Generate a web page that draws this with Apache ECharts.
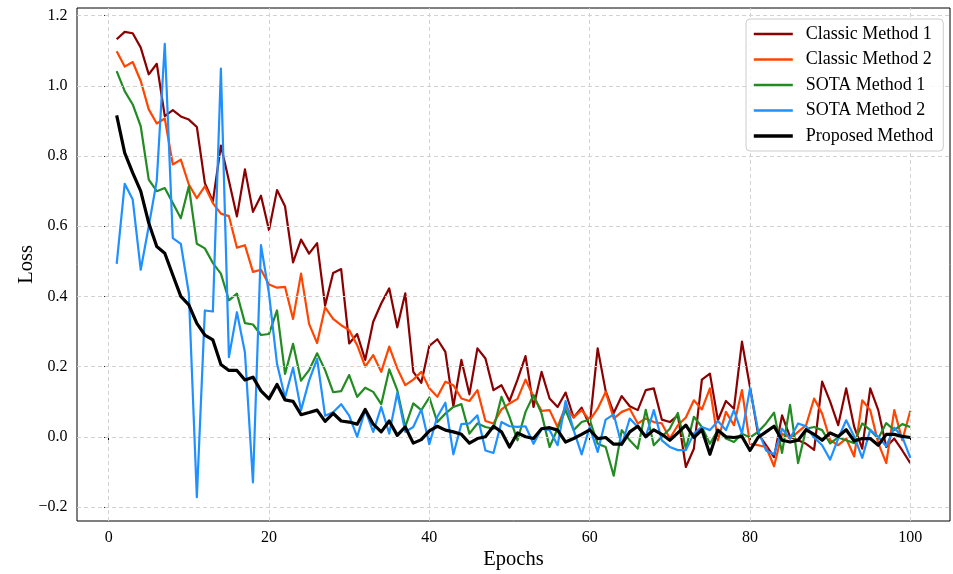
<!DOCTYPE html>
<html>
<head>
<meta charset="utf-8">
<script src="https://cdn.jsdelivr.net/npm/echarts@6/dist/echarts.min.js"></script>
<style>html,body{margin:0;padding:0;background:#fff;}#c{width:953px;height:574px;}</style>
</head>
<body>
<div id="c"></div>
<script>
const epochs = Array.from({length: 100}, (_, i) => i + 1);
const seriesNames = ['Classic Method 1', 'Classic Method 2', 'SOTA Method 1', 'SOTA Method 2', 'Proposed Method'];
const xTicks = [0, 20, 40, 60, 80, 100];
const yTicks = [-0.2, 0, 0.2, 0.4, 0.6, 0.8, 1.0, 1.2];

const classic1 = [1.133,1.154,1.150,1.109,1.033,1.063,0.914,0.931,0.913,0.904,
0.883,0.723,0.671,0.830,0.730,0.628,0.762,0.641,0.687,0.589,
0.703,0.657,0.497,0.562,0.522,0.552,0.374,0.467,0.478,0.266,
0.293,0.219,0.328,0.380,0.423,0.312,0.409,0.185,0.154,0.259,
0.278,0.242,0.087,0.219,0.121,0.252,0.223,0.133,0.147,0.102,
0.163,0.230,0.085,0.185,0.109,0.085,0.126,0.055,0.083,0.033,
0.252,0.130,0.068,0.116,0.087,0.076,0.133,0.138,0.049,0.042,
0.061,-0.086,-0.034,0.163,0.180,0.047,0.102,0.080,0.271,0.142,
0.009,-0.024,-0.058,0.061,0.000,-0.010,-0.020,-0.037,0.157,0.100,
0.033,0.138,0.028,-0.034,0.138,0.076,-0.029,-0.005,-0.039,-0.075];

const classic2 = [1.099,1.055,1.068,1.014,0.933,0.893,0.907,0.776,0.790,0.719,
0.680,0.714,0.666,0.636,0.629,0.539,0.546,0.470,0.476,0.434,
0.425,0.427,0.336,0.465,0.322,0.267,0.369,0.336,0.318,0.304,
0.261,0.200,0.233,0.185,0.257,0.195,0.147,0.163,0.185,0.138,
0.114,0.157,0.147,0.109,0.102,0.133,0.045,0.038,0.078,0.095,
0.108,0.163,0.114,0.074,0.076,0.028,0.087,0.055,0.076,0.047,
0.080,0.128,0.052,0.071,0.080,0.038,0.052,0.042,0.038,-0.005,
0.033,0.055,0.104,0.078,0.138,-0.010,0.071,0.033,0.133,-0.020,
-0.024,-0.029,-0.084,0.009,-0.005,0.014,0.033,0.109,0.066,-0.010,
-0.024,-0.005,-0.056,0.104,0.076,-0.018,-0.075,0.076,-0.010,0.074];

const sota1 = [1.042,0.985,0.947,0.885,0.733,0.700,0.709,0.666,0.623,0.714,
0.550,0.537,0.495,0.465,0.389,0.408,0.324,0.320,0.290,0.293,
0.360,0.179,0.265,0.160,0.190,0.238,0.190,0.127,0.130,0.176,
0.114,0.140,0.128,0.093,0.192,0.133,0.028,0.095,0.076,0.112,
0.042,0.066,0.085,0.093,0.009,0.038,0.028,0.023,0.114,0.057,
-0.010,0.071,0.119,0.066,-0.029,0.023,0.076,0.019,0.042,0.049,
-0.020,-0.029,-0.111,0.019,-0.010,-0.034,0.077,-0.024,0.000,0.023,
0.068,-0.034,0.057,0.028,-0.020,0.019,-0.005,-0.015,0.009,-0.002,
0.014,0.038,0.069,-0.046,0.091,-0.075,0.023,0.028,0.019,-0.019,
-0.002,-0.010,-0.018,0.038,0.019,-0.005,0.039,0.019,0.036,0.028];

const sota2 = [0.493,0.721,0.676,0.476,0.600,0.730,1.120,0.566,0.550,0.409,
-0.172,0.360,0.357,1.049,0.227,0.355,0.240,-0.130,0.546,0.408,
0.208,0.112,0.197,0.076,0.160,0.222,0.060,0.070,0.093,0.060,
0.000,0.076,0.014,0.085,0.009,0.125,0.014,0.028,0.078,-0.021,
0.057,0.097,-0.050,0.036,0.038,0.061,-0.039,-0.046,0.042,0.030,
0.028,0.030,-0.020,0.023,0.019,-0.024,0.102,0.019,-0.050,0.028,
-0.043,0.049,0.064,-0.024,0.052,0.028,0.000,0.076,-0.010,-0.029,
-0.038,-0.038,0.009,0.028,0.019,0.045,0.019,0.076,0.009,0.138,
0.019,-0.039,-0.050,0.023,-0.005,0.038,0.030,-0.002,-0.024,-0.065,
-0.005,0.047,0.001,-0.060,0.020,0.000,-0.027,0.026,0.000,-0.060];

const proposed = [0.916,0.809,0.752,0.700,0.609,0.542,0.523,0.461,0.400,0.376,
0.323,0.290,0.276,0.206,0.189,0.189,0.162,0.170,0.131,0.108,
0.149,0.105,0.101,0.063,0.069,0.076,0.044,0.067,0.045,0.042,
0.036,0.078,0.036,0.014,0.045,0.004,0.028,-0.018,-0.008,0.017,
0.030,0.019,0.014,0.007,-0.018,-0.005,0.000,0.030,0.014,-0.029,
0.011,0.000,-0.005,0.023,0.026,0.019,-0.015,-0.005,0.007,0.020,
-0.005,-0.002,-0.021,-0.021,0.014,0.030,0.000,0.020,0.007,-0.010,
0.011,0.033,-0.002,0.020,-0.050,0.019,0.000,-0.002,0.001,-0.039,
-0.002,0.014,0.030,-0.010,-0.015,-0.010,0.020,0.007,-0.010,0.011,
0.001,0.020,-0.012,-0.005,-0.005,-0.024,0.007,0.007,0.001,-0.002];

const seriesValues = [classic1, classic2, sota1, sota2, proposed];
const colors = ['#8B0000', '#FF4500', '#228B22', '#1E90FF', '#000000'];
const widths = [2.2, 2.2, 2.2, 2.2, 3.2];
const legendWidths = [2.6, 2.6, 2.6, 2.6, 3.6];

const FONT = 'Liberation Serif';
const chart = echarts.init(document.getElementById('c'));

const gridMarks = xTicks.map(v => ({xAxis: v})).concat(yTicks.map(v => ({yAxis: v})));

const series = [{
  name: '_grid', type: 'line', data: [], z: 1, silent: true,
  markLine: {
    silent: true, symbol: 'none', label: {show: false}, animation: false,
    lineStyle: {color: '#d2d2d2', width: 1, type: [4, 3]},
    emphasis: {disabled: true},
    data: gridMarks
  }
}];
seriesNames.forEach((n, i) => {
  series.push({
    name: n, type: 'line', z: 2 + i, symbol: 'none', showSymbol: false,
    data: epochs.map((e, j) => [e, seriesValues[i][j]]),
    lineStyle: {color: colors[i], width: widths[i], join: 'round'},
    itemStyle: {color: colors[i]},
    emphasis: {disabled: true}
  });
});

const legendData = seriesNames.map((n, i) => ({
  name: n,
  itemStyle: {opacity: 0},
  lineStyle: {color: colors[i], width: legendWidths[i], type: 'solid', opacity: 1}
}));

chart.setOption({
  animation: false,
  backgroundColor: '#fff',
  grid: {left: 77, right: 3, top: 8, bottom: 53, containLabel: false, outerBoundsMode: 'none',
    show: true, borderColor: '#000', borderWidth: 1, backgroundColor: 'transparent'},
  legend: {
    data: legendData, orient: 'vertical', left: 746, top: 19, z: 20,
    padding: [5, 10, 5, 6], itemGap: 5.5, itemWidth: 39, itemHeight: 20,
    borderColor: '#cccccc', borderWidth: 1, borderRadius: 4,
    backgroundColor: 'rgba(255,255,255,0.85)',
    itemStyle: {opacity: 0},
    textStyle: {fontFamily: FONT, fontSize: 18, color: '#000', padding: [0, 0, 0, 8], lineHeight: 20},
    selectedMode: false
  },
  xAxis: {
    type: 'value', min: -3.95, max: 104.95,
    name: 'Epochs', nameLocation: 'middle', nameGap: 28, nameMoveOverlap: false,
    nameTextStyle: {fontFamily: FONT, fontSize: 20.5, color: '#000'},
    axisLine: {show: false},
    splitLine: {show: false},
    axisTick: {show: true, inside: false, length: 4.5, lineStyle: {color: '#000', width: 1}, customValues: xTicks},
    axisLabel: {customValues: xTicks, fontFamily: FONT, fontSize: 16, color: '#000', margin: 9, formatter: v => String(v)}
  },
  yAxis: {
    type: 'value', min: -0.24, max: 1.222,
    name: 'Loss', nameLocation: 'middle', nameGap: 40, nameMoveOverlap: false,
    nameTextStyle: {fontFamily: FONT, fontSize: 20.5, color: '#000'},
    axisLine: {show: false},
    splitLine: {show: false},
    axisTick: {show: true, inside: false, length: 4.5, lineStyle: {color: '#000', width: 1}, customValues: yTicks},
    axisLabel: {customValues: yTicks, fontFamily: FONT, fontSize: 16, color: '#000', margin: 9.5,
      formatter: v => (v < -1e-9 ? '\u2212' + Math.abs(v).toFixed(1) : Math.abs(v).toFixed(1))}
  },
  series: series
});
</script>
</body>
</html>
